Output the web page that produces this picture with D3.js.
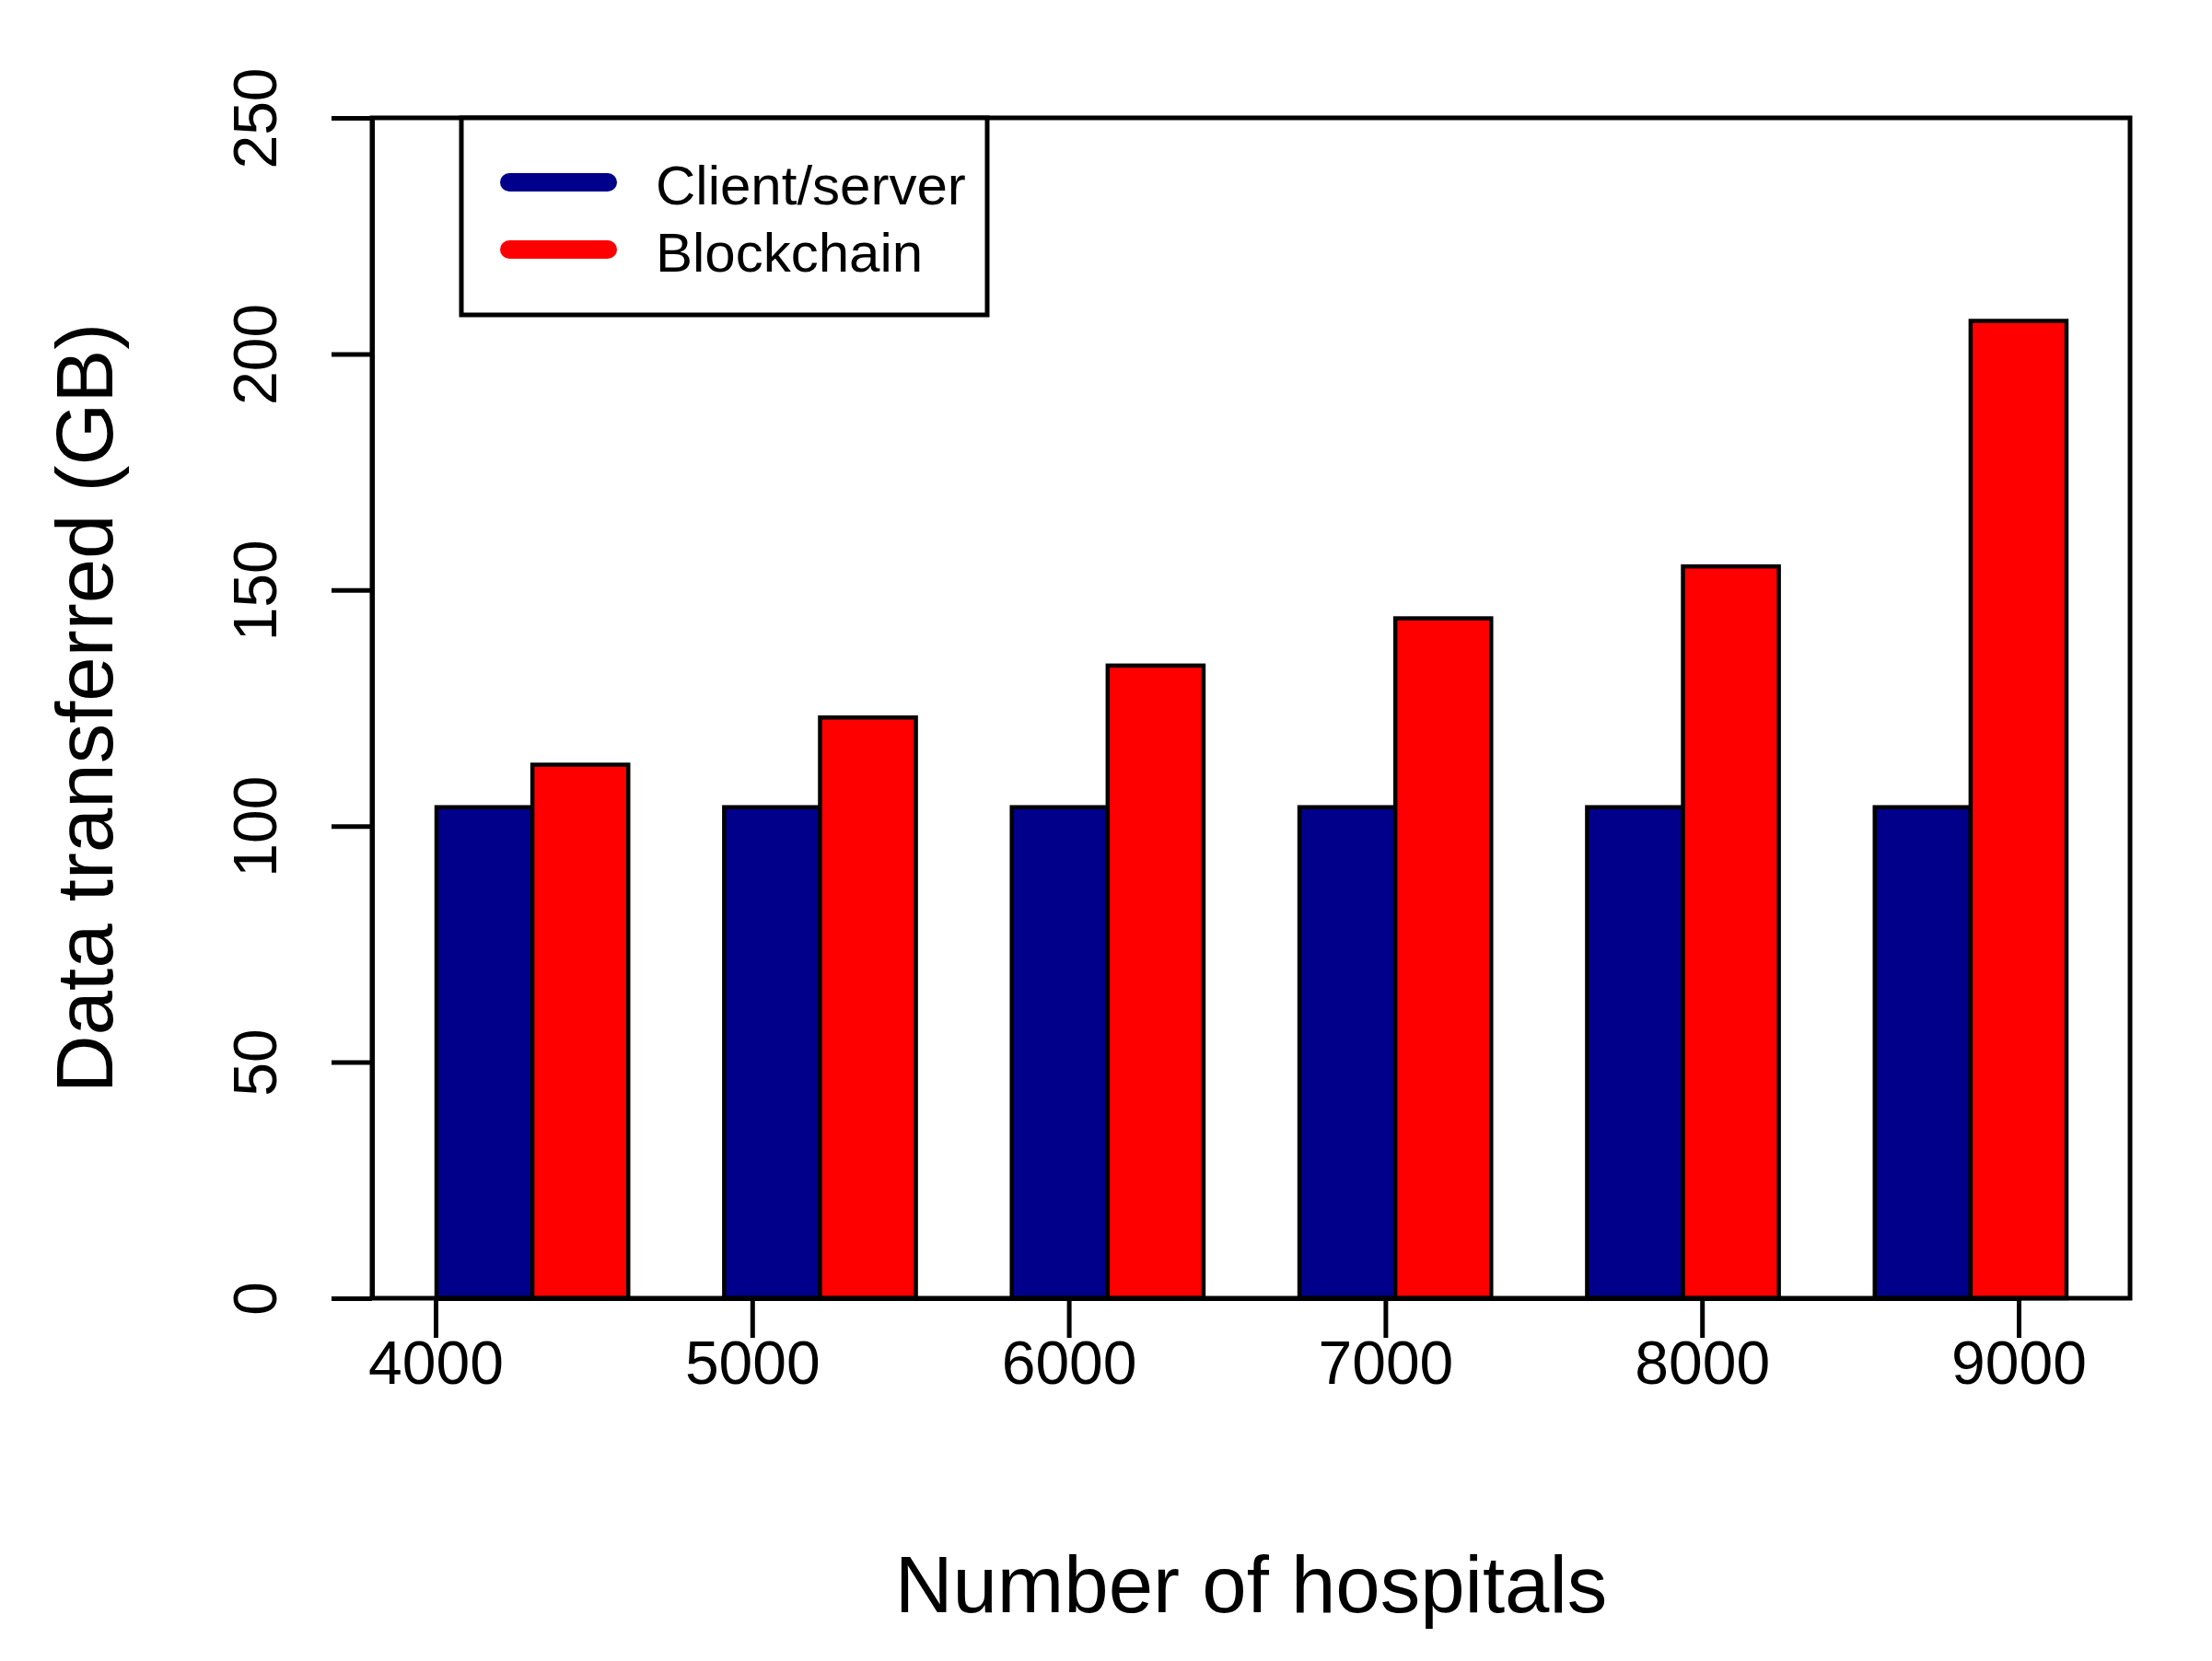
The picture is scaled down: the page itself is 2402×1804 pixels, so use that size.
<!DOCTYPE html>
<html>
<head>
<meta charset="utf-8">
<script src="https://cdn.jsdelivr.net/npm/d3@7"></script>
<style>
  html, body { margin: 0; padding: 0; background: #fff; }
  svg { display: block; }
  text { font-family: "Liberation Sans", Arial, sans-serif; fill: #000; }
</style>
</head>
<body>
<svg id="chart" width="2402" height="1804"></svg>
<script>
// ---- data ----
const categories = ["4000", "5000", "6000", "7000", "8000", "9000"];
const clientServer = [104, 104, 104, 104, 104, 104];
const blockchain = [113, 123, 134, 144, 155, 207];
const seriesNames = ["Client/server", "Blockchain"];
const seriesColors = ["#00008B", "#FF0000"];
const yTicks = [0, 50, 100, 150, 200, 250];
const xTitle = "Number of hospitals";
const yTitle = "Data transferred (GB)";

// ---- layout ----
const plot = { left: 404, right: 2313, top: 128, bottom: 1410 };
const svg = d3.select("#chart");
svg.append("rect").attr("width", 2402).attr("height", 1804).attr("fill", "#fff");

const y = d3.scaleLinear().domain([0, 250]).range([plot.bottom, plot.top]);
const xGroup = d3.scaleBand().domain(categories).range([474, 2244])
  .paddingInner(1 / 3).paddingOuter(0);
const xSub = d3.scaleBand().domain(seriesNames).range([0, xGroup.bandwidth()]);
const xTick = d3.scalePoint().domain(categories).range([473, 2192]);

const rows = categories.map((c, i) => ({
  cat: c,
  vals: [
    { s: seriesNames[0], v: clientServer[i], color: seriesColors[0] },
    { s: seriesNames[1], v: blockchain[i], color: seriesColors[1] }
  ]
}));

// ---- bars ----
const groups = svg.append("g").selectAll("g").data(rows).join("g")
  .attr("transform", d => `translate(${xGroup(d.cat)},0)`);
groups.selectAll("rect").data(d => d.vals).join("rect")
  .attr("x", d => xSub(d.s))
  .attr("width", xSub.bandwidth())
  .attr("y", d => y(d.v))
  .attr("height", d => y(0) - y(d.v))
  .attr("fill", d => d.color)
  .attr("stroke", "#000")
  .attr("stroke-width", 4.5);

// ---- y axis ----
const yAxis = svg.append("g").attr("transform", `translate(${plot.left},0)`)
  .call(d3.axisLeft(y).tickValues(yTicks).tickSize(44).tickSizeOuter(0).tickFormat(d3.format("d")));
yAxis.selectAll("path.domain").attr("stroke", "#000").attr("stroke-width", 5);
yAxis.selectAll(".tick line").attr("stroke", "#000").attr("stroke-width", 5);
yAxis.selectAll(".tick text")
  .attr("x", null).attr("dy", null)
  .attr("transform", "translate(-104,0) rotate(-90)")
  .attr("text-anchor", "middle")
  .style("font-size", "66px")
  .style("font-family", "'Liberation Sans', Arial, sans-serif")
  .attr("fill", "#000");

// ---- x axis ----
const xAxis = svg.append("g").attr("transform", `translate(0,${plot.bottom})`)
  .call(d3.axisBottom(xTick).tickSize(43).tickSizeOuter(0));
xAxis.selectAll("path.domain").attr("stroke", "#000").attr("stroke-width", 5);
xAxis.selectAll(".tick line").attr("stroke", "#000").attr("stroke-width", 5);
xAxis.selectAll(".tick text")
  .attr("y", 93).attr("dy", null)
  .attr("text-anchor", "middle")
  .style("font-size", "66px")
  .style("font-family", "'Liberation Sans', Arial, sans-serif")
  .attr("fill", "#000");

// ---- plot box ----
svg.append("rect")
  .attr("x", plot.left).attr("y", plot.top)
  .attr("width", plot.right - plot.left).attr("height", plot.bottom - plot.top)
  .attr("fill", "none").attr("stroke", "#000").attr("stroke-width", 5);

// ---- titles ----
svg.append("text")
  .attr("x", (plot.left + plot.right) / 2).attr("y", 1751)
  .attr("text-anchor", "middle")
  .style("font-size", "87px")
  .text(xTitle);
svg.append("text")
  .attr("transform", `translate(122,${(plot.top + plot.bottom) / 2}) rotate(-90)`)
  .attr("text-anchor", "middle")
  .style("font-size", "87px")
  .text(yTitle);

// ---- legend ----
const legend = svg.append("g");
legend.append("rect")
  .attr("x", 501).attr("y", plot.top).attr("width", 571).attr("height", 214)
  .attr("fill", "#fff").attr("stroke", "#000").attr("stroke-width", 5);
const legendY = [198, 271];
const li = legend.selectAll("g.item").data(seriesNames).join("g").attr("class", "item")
  .attr("transform", (d, i) => `translate(0,${legendY[i]})`);
li.append("line")
  .attr("x1", 553).attr("x2", 660).attr("y1", 0).attr("y2", 0)
  .attr("stroke", (d, i) => seriesColors[i])
  .attr("stroke-width", 20).attr("stroke-linecap", "round");
li.append("text")
  .attr("x", 712).attr("y", 24)
  .style("font-size", "60px")
  .text(d => d);
</script>
</body>
</html>
